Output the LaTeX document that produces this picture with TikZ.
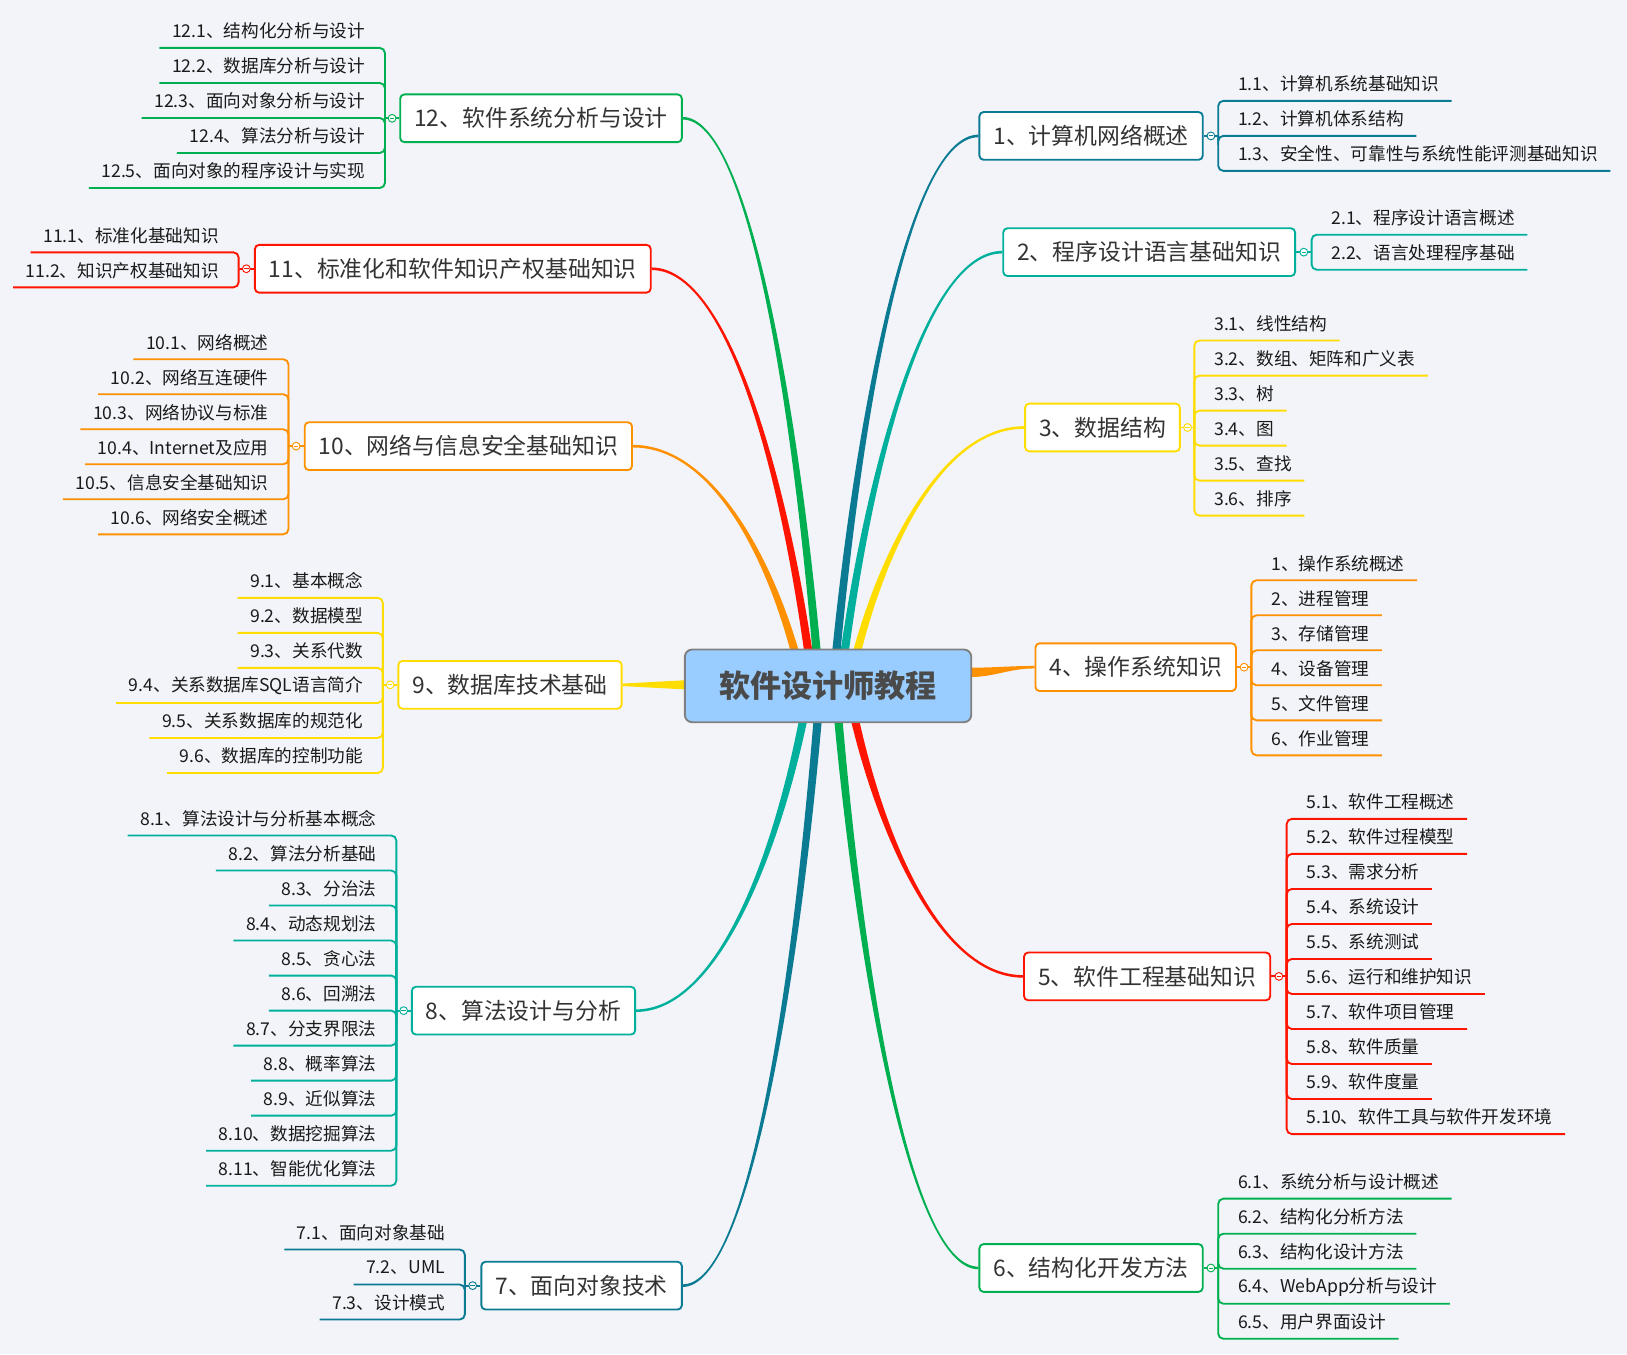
\documentclass[tikz,border=0pt]{standalone}
\usepackage{fontspec}
\setmainfont{Noto Sans CJK SC}
\usetikzlibrary{calc}
\definecolor{bgc}{HTML}{F2F4F9}
\definecolor{cDT}{HTML}{0B7B94}
\definecolor{cTL}{HTML}{00B09C}
\definecolor{cYL}{HTML}{FFDD00}
\definecolor{cOR}{HTML}{FF9000}
\definecolor{cRD}{HTML}{FF1400}
\definecolor{cGR}{HTML}{00AF50}
\definecolor{ctrfill}{HTML}{99CCFF}
\definecolor{ctrline}{HTML}{808080}
\definecolor{ctrtext}{HTML}{4A4A4A}
\definecolor{maintext}{HTML}{333333}
\definecolor{leaftext}{HTML}{1A1A1A}
\pgfdeclarelayer{back}
\pgfsetlayers{back,main}
\tikzset{
  mainbox/.style={draw=#1, line width=1.8pt, rounded corners=4pt, fill=white, minimum height=46pt, inner xsep=13.5pt, inner ysep=0pt, font=\fontsize{22}{26}\selectfont, text=maintext},
  leaf/.style={inner xsep=12pt, inner ysep=0pt, minimum height=32pt, font=\fontsize{17}{20}\selectfont, text=leaftext},
  elbow/.style={draw=#1, line width=1.8pt, rounded corners=5pt},
  stem/.style={draw=#1, line width=1.8pt},
  marker/.style={circle, draw=#1, fill=white, line width=0.9pt, inner sep=0pt, minimum size=7.5pt},
}
% tapered branch: #1 colour, #2 main-node anchor, #3 centre coordinate, #4 side sign
\newcommand\taper[4]{%
  \fill[#1] let \p1=(#2), \p2=(#3) in
    (\x1,{\y1+1.25pt})
    .. controls ({\x1+0.48*(\x2-\x1)},{\y1+1.25pt}) and ({\x2-0.17*(\x2-\x1)+(#4)*3pt},{\y1+0.52*(\y2-\y1)}) ..
    ({\x2+(#4)*4pt},\y2)
    -- ({\x2-(#4)*4pt},\y2)
    .. controls ({\x2-0.17*(\x2-\x1)-(#4)*3pt},{\y1+0.52*(\y2-\y1)}) and ({\x1+0.48*(\x2-\x1)},{\y1-1.25pt}) ..
    (\x1,{\y1-1.25pt}) -- cycle;}
% leaves on the right: #1 colour, #2 hub coordinate, #3 x, #4 first y, #5 texts
\newcommand\leavesR[5]{%
  \foreach \t [count=\i] in {#5} {
    \node[leaf, anchor=west] (#2-\i) at (#3,{#4+33.75*(\i-1)}) {\t};
    \draw[elbow=#1] (#2) |- (#2-\i.south east);
  }}
\newcommand\leavesL[5]{%
  \foreach \t [count=\i] in {#5} {
    \node[leaf, anchor=east] (#2-\i) at (#3,{#4+33.75*(\i-1)}) {\t};
    \draw[elbow=#1] (#2) |- (#2-\i.south west);
  }}
% hub: #1 colour, #2 main-node anchor, #3 hub coordinate, #4 marker name
\newcommand\hub[4]{%
  \draw[stem=#1] (#2) -- (#3);
  \node[marker=#1] (#4) at ($(#2)!0.5!(#3)$) {};
  \draw[#1, line width=0.9pt] ([xshift=-2.2pt]#4.center) -- ([xshift=2.2pt]#4.center);}

\begin{document}
\begin{tikzpicture}[x=1pt,y=-1pt]
\useasboundingbox (0,0) rectangle (1568,1305);
\begin{pgfonlayer}{back}
  \fill[bgc] (0,0) rectangle (1568,1305);
\end{pgfonlayer}

% centre
\node[draw=ctrline, fill=ctrfill, line width=1.8pt, rounded corners=7pt, minimum width=276pt, minimum height=70pt, inner sep=0pt, font=\fontsize{30}{34}\selectfont\bfseries, text=ctrtext] (ctr) at (798,661) {软件设计师教程};

% main topics
\node[mainbox=cDT, anchor=west] (n1) at (943,131) {1、计算机网络概述};
\node[mainbox=cTL, anchor=west] (n2) at (966,243) {2、程序设计语言基础知识};
\node[mainbox=cYL, anchor=west] (n3) at (987,412) {3、数据结构};
\node[mainbox=cOR, anchor=west] (n4) at (997,643) {4、操作系统知识};
\node[mainbox=cRD, anchor=west] (n5) at (986,941) {5、软件工程基础知识};
\node[mainbox=cGR, anchor=west] (n6) at (943,1222) {6、结构化开发方法};
\node[mainbox=cDT, anchor=east] (n7) at (658,1239) {7、面向对象技术};
\node[mainbox=cTL, anchor=east] (n8) at (613,974) {8、算法设计与分析};
\node[mainbox=cYL, anchor=east] (n9) at (600,660) {9、数据库技术基础};
\node[mainbox=cOR, anchor=east] (n10) at (610,430) {10、网络与信息安全基础知识};
\node[mainbox=cRD, anchor=east] (n11) at (628,259) {11、标准化和软件知识产权基础知识};
\node[mainbox=cGR, anchor=east] (n12) at (658,114) {12、软件系统分析与设计};

% centre ends of the branches
\coordinate (c10) at (766,628);
\coordinate (c11) at (779,628);
\coordinate (c12) at (787,628);
\coordinate (c1) at (806,628);
\coordinate (c2) at (814,628);
\coordinate (c3) at (826,628);
\coordinate (c8) at (774,694);
\coordinate (c7) at (788,694);
\coordinate (c6) at (808,694);
\coordinate (c5) at (824,694);
\coordinate (c4) at (934,648);
\coordinate (c9) at (662,660);

\begin{pgfonlayer}{back}
  \taper{cOR}{n10.east}{c10}{1}
  \taper{cRD}{n11.east}{c11}{1}
  \taper{cGR}{n12.east}{c12}{1}
  \taper{cDT}{n1.west}{c1}{-1}
  \taper{cTL}{n2.west}{c2}{-1}
  \taper{cYL}{n3.west}{c3}{-1}
  \taper{cTL}{n8.east}{c8}{-1}
  \taper{cDT}{n7.east}{c7}{-1}
  \taper{cGR}{n6.west}{c6}{1}
  \taper{cRD}{n5.west}{c5}{1}
  \fill[cOR] let \p1=(n4.west), \p2=(c4) in
    (\x1,{\y1+1.2pt}) .. controls ({\x1-25pt},{\y1+1.2pt}) and ({\x2+25pt},{\y2+4.5pt}) .. (\x2,{\y2+4.5pt})
    -- (\x2,{\y2-4.5pt}) .. controls ({\x2+25pt},{\y2-4.5pt}) and ({\x1-25pt},{\y1-1.2pt}) .. (\x1,{\y1-1.2pt}) -- cycle;
  \fill[cYL] let \p1=(n9.east), \p2=(c9) in
    (\x1,{\y1+1.2pt}) -- (\x2,{\y2+4.5pt}) -- (\x2,{\y2-4.5pt}) -- (\x1,{\y1-1.2pt}) -- cycle;
\end{pgfonlayer}

% hub points
\coordinate (k1) at (1174,131);
\coordinate (k2) at (1264,243);
\coordinate (k3) at (1151,412);
\coordinate (k4) at (1206,643);
\coordinate (k5) at (1240,941);
\coordinate (k6) at (1174,1222);
\coordinate (k7) at (448,1239);
\coordinate (k8) at (382,974);
\coordinate (k9) at (369,660);
\coordinate (k10) at (278,430);
\coordinate (k11) at (230,259);
\coordinate (k12) at (371,114);

% leaves
\leavesR{cDT}{k1}{1181}{81}{1.1、计算机系统基础知识,1.2、计算机体系结构,1.3、安全性、可靠性与系统性能评测基础知识}
\leavesR{cTL}{k2}{1271}{210}{2.1、程序设计语言概述,2.2、语言处理程序基础}
\leavesR{cYL}{k3}{1158}{312}{3.1、线性结构,3.2、数组、矩阵和广义表,3.3、树,3.4、图,3.5、查找,3.6、排序}
\leavesR{cOR}{k4}{1213}{543}{1、操作系统概述,2、进程管理,3、存储管理,4、设备管理,5、文件管理,6、作业管理}
\leavesR{cRD}{k5}{1247}{773}{5.1、软件工程概述,5.2、软件过程模型,5.3、需求分析,5.4、系统设计,5.5、系统测试,5.6、运行和维护知识,5.7、软件项目管理,5.8、软件质量,5.9、软件度量,5.10、软件工具与软件开发环境}
\leavesR{cGR}{k6}{1181}{1139}{6.1、系统分析与设计概述,6.2、结构化分析方法,6.3、结构化设计方法,6.4、WebApp分析与设计,6.5、用户界面设计}
\leavesL{cDT}{k7}{441}{1188}{7.1、面向对象基础,7.2、UML,7.3、设计模式}
\leavesL{cTL}{k8}{375}{789}{8.1、算法设计与分析基本概念,8.2、算法分析基础,8.3、分治法,8.4、动态规划法,8.5、贪心法,8.6、回溯法,8.7、分支界限法,8.8、概率算法,8.9、近似算法,8.10、数据挖掘算法,8.11、智能优化算法}
\leavesL{cYL}{k9}{362}{560}{9.1、基本概念,9.2、数据模型,9.3、关系代数,9.4、关系数据库SQL语言简介,9.5、关系数据库的规范化,9.6、数据库的控制功能}
\leavesL{cOR}{k10}{271}{330}{10.1、网络概述,10.2、网络互连硬件,10.3、网络协议与标准,10.4、Internet及应用,10.5、信息安全基础知识,10.6、网络安全概述}
\leavesL{cRD}{k11}{223}{227}{11.1、标准化基础知识,11.2、知识产权基础知识}
\leavesL{cGR}{k12}{364}{30}{12.1、结构化分析与设计,12.2、数据库分析与设计,12.3、面向对象分析与设计,12.4、算法分析与设计,12.5、面向对象的程序设计与实现}

% hubs with collapse markers
\hub{cDT}{n1.east}{k1}{m1}
\hub{cTL}{n2.east}{k2}{m2}
\hub{cYL}{n3.east}{k3}{m3}
\hub{cOR}{n4.east}{k4}{m4}
\hub{cRD}{n5.east}{k5}{m5}
\hub{cGR}{n6.east}{k6}{m6}
\hub{cDT}{n7.west}{k7}{m7}
\hub{cTL}{n8.west}{k8}{m8}
\hub{cYL}{n9.west}{k9}{m9}
\hub{cOR}{n10.west}{k10}{m10}
\hub{cRD}{n11.west}{k11}{m11}
\hub{cGR}{n12.west}{k12}{m12}
\end{tikzpicture}
\end{document}
